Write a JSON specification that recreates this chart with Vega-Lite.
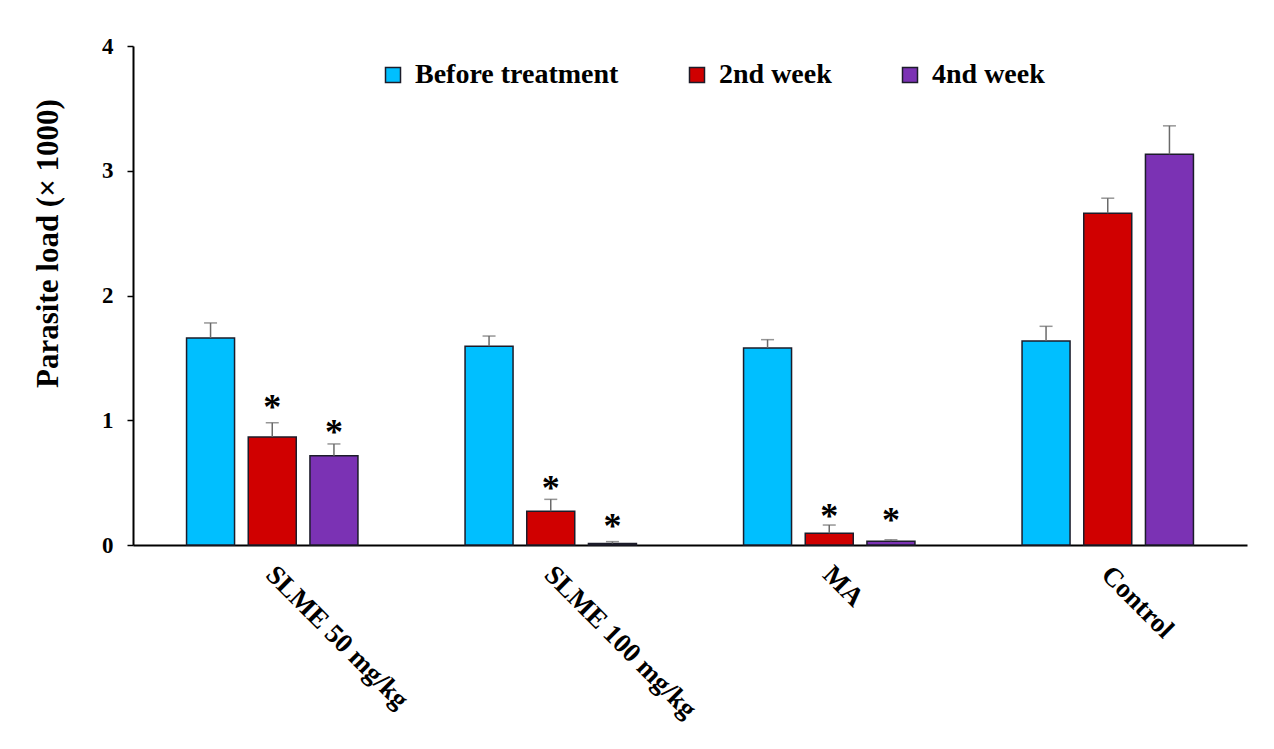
{
  "$schema": "https://vega.github.io/schema/vega-lite/v6.json",
  "width": 1114,
  "height": 499,
  "autosize": {"type": "none"},
  "padding": {"left": 133, "top": 46, "right": 27, "bottom": 204},
  "background": "white",
  "config": {
    "view": {"stroke": null},
    "font": "Liberation Serif"
  },
  "data": {
    "values": [
      {"group": "SLME 50 mg/kg", "series": "Before treatment", "value": 1.66, "upper": 1.78, "star": null},
      {"group": "SLME 50 mg/kg", "series": "2nd week", "value": 0.866, "upper": 0.98, "star": 1.162},
      {"group": "SLME 50 mg/kg", "series": "4nd week", "value": 0.716, "upper": 0.81, "star": 0.962},
      {"group": "SLME 100 mg/kg", "series": "Before treatment", "value": 1.593, "upper": 1.675, "star": null},
      {"group": "SLME 100 mg/kg", "series": "2nd week", "value": 0.27, "upper": 0.366, "star": 0.513},
      {"group": "SLME 100 mg/kg", "series": "4nd week", "value": 0.012, "upper": 0.027, "star": 0.206},
      {"group": "MA", "series": "Before treatment", "value": 1.579, "upper": 1.646, "star": null},
      {"group": "MA", "series": "2nd week", "value": 0.094, "upper": 0.16, "star": 0.286},
      {"group": "MA", "series": "4nd week", "value": 0.03, "upper": 0.042, "star": 0.254},
      {"group": "Control", "series": "Before treatment", "value": 1.635, "upper": 1.753, "star": null},
      {"group": "Control", "series": "2nd week", "value": 2.659, "upper": 2.78, "star": null},
      {"group": "Control", "series": "4nd week", "value": 3.132, "upper": 3.36, "star": null}
    ]
  },
  "encoding": {
    "x": {
      "field": "group",
      "type": "nominal",
      "sort": ["SLME 50 mg/kg", "SLME 100 mg/kg", "MA", "Control"],
      "scale": {"paddingInner": 0, "paddingOuter": 0},
      "axis": {
        "title": null,
        "labelAngle": 45,
        "labelAlign": "left",
        "labelBaseline": "top",
        "labelFont": "Liberation Serif",
        "labelFontWeight": "bold",
        "labelFontSize": 27,
        "labelColor": "#000000",
        "labelPadding": 16,
        "labelOffset": 7,
        "labelLimit": 400,
        "ticks": false,
        "domainColor": "#000000",
        "domainWidth": 2
      }
    },
    "xOffset": {
      "field": "series",
      "type": "nominal",
      "sort": ["Before treatment", "2nd week", "4nd week"],
      "scale": {"paddingInner": 0.222, "paddingOuter": 0.868}
    }
  },
  "layer": [
    {
      "mark": {"type": "bar", "stroke": "#1c1c2a", "strokeWidth": 1.5},
      "encoding": {
        "y": {
          "field": "value",
          "type": "quantitative",
          "scale": {"domain": [0, 4], "nice": false},
          "axis": {
            "values": [0, 1, 2, 3, 4],
            "format": "d",
            "grid": false,
            "title": "Parasite load (× 1000)",
            "titleFont": "Liberation Serif",
            "titleFontWeight": "bold",
            "titleFontSize": 31,
            "titleColor": "#000000",
            "titleAngle": -90,
            "titleAlign": "center",
            "titleBaseline": "middle",
            "titleX": -85,
            "titleY": 197,
            "labelFont": "Liberation Serif",
            "labelFontWeight": "bold",
            "labelFontSize": 23,
            "labelColor": "#000000",
            "labelPadding": 14,
            "tickSize": 6,
            "tickColor": "#000000",
            "tickWidth": 1.5,
            "domainColor": "#000000",
            "domainWidth": 2
          }
        },
        "color": {
          "field": "series",
          "type": "nominal",
          "sort": ["Before treatment", "2nd week", "4nd week"],
          "scale": {
            "domain": ["Before treatment", "2nd week", "4nd week"],
            "range": ["#00BFFF", "#D00000", "#7B32B4"]
          },
          "legend": {
            "title": null,
            "orient": "none",
            "direction": "horizontal",
            "legendX": 246,
            "legendY": 15,
            "symbolType": "square",
            "symbolSize": 225,
            "symbolStrokeColor": "#1c1c2a",
            "symbolStrokeWidth": 1.5,
            "symbolOpacity": 1,
            "labelFont": "Liberation Serif",
            "labelFontWeight": "bold",
            "labelFontSize": 28,
            "labelColor": "#000000",
            "labelOffset": 8,
            "labelLimit": 400,
            "columnPadding": 64
          }
        }
      }
    },
    {
      "mark": {"type": "rule", "color": "#6a6a6a", "strokeWidth": 1.5},
      "encoding": {
        "y": {"field": "value", "type": "quantitative"},
        "y2": {"field": "upper"}
      }
    },
    {
      "mark": {"type": "tick", "color": "#6a6a6a", "size": 13, "thickness": 1.5},
      "encoding": {
        "y": {"field": "upper", "type": "quantitative"}
      }
    },
    {
      "transform": [{"filter": "datum.star != null"}],
      "mark": {"type": "text", "text": "*", "font": "Liberation Serif", "fontWeight": "bold", "fontSize": 36, "baseline": "alphabetic", "dy": 19, "color": "#000000"},
      "encoding": {
        "y": {"field": "star", "type": "quantitative"}
      }
    }
  ]
}
